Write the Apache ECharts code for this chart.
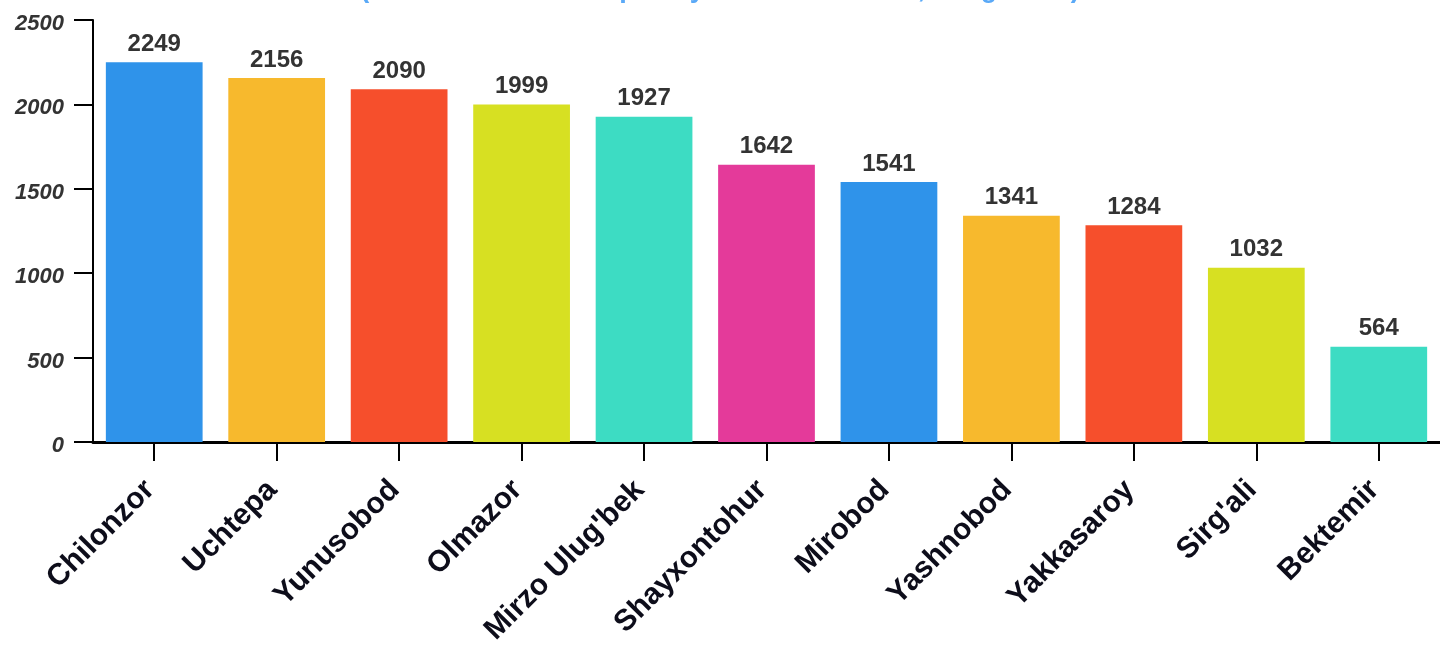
<!DOCTYPE html>
<html>
<head>
<meta charset="utf-8">
<script src="https://cdn.jsdelivr.net/npm/echarts@6/dist/echarts.min.js"></script>
<style>
html,body{margin:0;padding:0;background:#fff;}
#chart{width:1440px;height:648px;}
</style>
</head>
<body>
<div id="chart"></div>
<script>
var titleText = "(Tumanlar kesimida pensiya oluvchilar soni, ming nafar)";
var categories = ["Chilonzor","Uchtepa","Yunusobod","Olmazor","Mirzo Ulug'bek","Shayxontohur","Mirobod","Yashnobod","Yakkasaroy","Sirg'ali","Bektemir"];
var values = [2249,2156,2090,1999,1927,1642,1541,1341,1284,1032,564];
var yTicks = [0,500,1000,1500,2000,2500];
var palette = ["#2f93ea","#f7b92d","#f64f2c","#d7e022","#3ddcc3","#e43a9a"];
var FONT = 'Liberation Sans, Arial, Helvetica, sans-serif';

var chart = echarts.init(document.getElementById('chart'), null, {renderer:'canvas'});
chart.setOption({
  animation:false,
  title:{
    text:titleText,
    left:'center',
    top:-29,
    textStyle:{color:'#5aa9f7',fontSize:27,fontWeight:'bold',fontFamily:FONT}
  },
  grid:{left:93,right:0,top:20,bottom:205,containLabel:false},
  xAxis:{
    type:'category',
    data:categories,
    axisLine:{lineStyle:{color:'#000',width:3}},
    axisTick:{show:true,alignWithLabel:true,length:19,lineStyle:{color:'#000',width:2}},
    axisLabel:{rotate:45,interval:0,margin:39,padding:[0,6,0,0],color:'#0d0d1a',fontSize:30,fontWeight:'bold',fontFamily:FONT}
  },
  yAxis:{
    type:'value',
    min:yTicks[0],
    max:yTicks[yTicks.length-1],
    interval:500,
    axisLine:{show:true,lineStyle:{color:'#000',width:2}},
    axisTick:{show:true,length:19,lineStyle:{color:'#000',width:2}},
    splitLine:{show:false},
    axisLabel:{margin:29,
      formatter:function(v){return '{t|' + v + '}';},
      rich:{t:{padding:[8,0,0,0],color:'#333',fontSize:22,fontWeight:'bold',fontStyle:'italic',fontFamily:FONT}}}
  },
  series:[{
    type:'bar',
    data:values.map(function(v,i){return {value:v,itemStyle:{color:palette[i%palette.length]}};}),
    barCategoryGap:'21%',
    label:{show:true,position:'top',distance:6,color:'#333',fontSize:24,fontWeight:'bold',fontFamily:FONT}
  }]
});
</script>
</body>
</html>
